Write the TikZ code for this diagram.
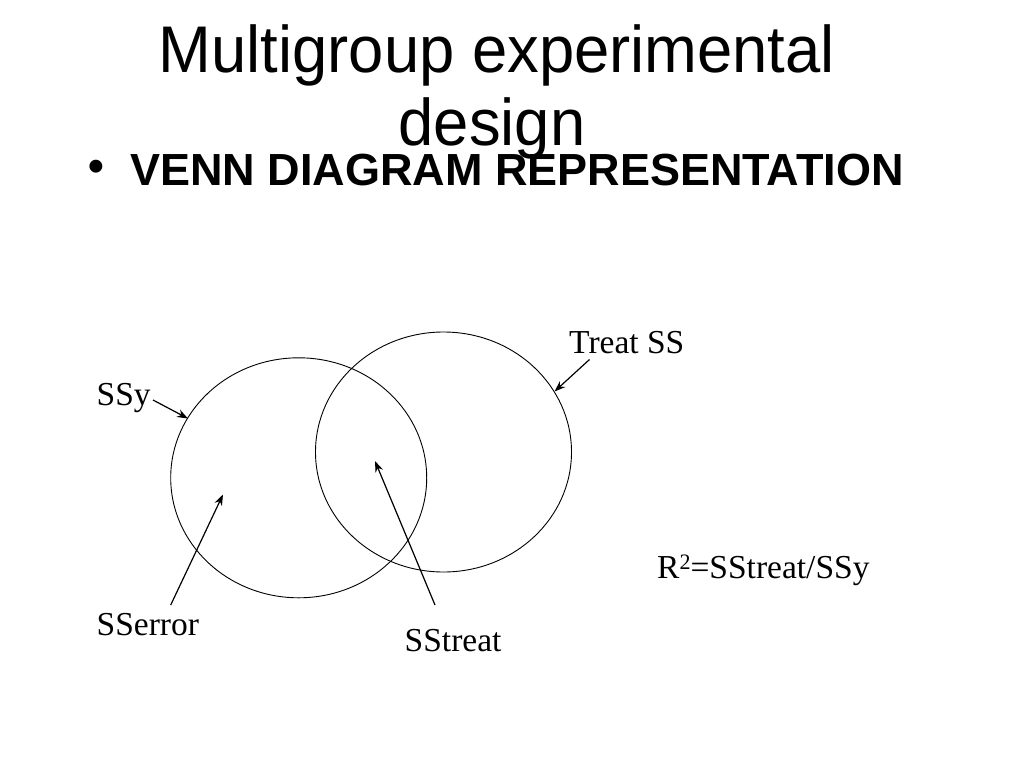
\documentclass[tikz,border=0pt]{standalone}
\usepackage{fontspec}
\setmainfont{Liberation Serif}
\newfontfamily\arialfont{Liberation Sans}
\usetikzlibrary{arrows.meta,shapes.geometric}
\begin{document}
\begin{tikzpicture}[x=1pt,y=-1pt,
  titletext/.style={inner sep=0pt,anchor=base,xscale=0.96,font=\arialfont\fontsize{66}{76}\selectfont},
  bullettext/.style={inner sep=0pt,font=\arialfont\bfseries\fontsize{45}{54}\selectfont},
  label/.style={inner sep=0pt,anchor=base west,font=\fontsize{33.5}{40}\selectfont},
  venn/.style={draw=black,line width=0.9pt},
  pointer/.style={draw=black,line width=1.2pt,-{Stealth[length=11pt,width=8pt]}}]
\useasboundingbox[fill=white] (0,0) rectangle (1024,768);
% title
\node[titletext] (title1) at (497,72.3) {Multigroup experimental};
\node[titletext] (title2) at (492,145.7) {design};
% bullet
\node[bullettext,anchor=center] (dot) at (96.5,171) {•};
\node[bullettext,anchor=base west] (head) at (130,185) {VENN DIAGRAM REPRESENTATION};
% circles
\node[venn,ellipse,minimum width=256pt,minimum height=240pt,inner sep=0pt] (setY) at (298.7,477.8) {};
\node[venn,ellipse,minimum width=256pt,minimum height=240pt,inner sep=0pt] (setT) at (443.5,452) {};
% labels
\node[label] (ssy) at (96.5,405.5) {SSy};
\node[label] (treatss) at (569,353.5) {Treat SS};
\node[label] (sserror) at (96.5,635) {SSerror};
\node[label] (sstreat) at (404.5,651.7) {SStreat};
\node[label] (rsq) at (657,578.3) {R\raisebox{8.5pt}{\fontsize{22}{22}\selectfont 2}=SStreat/SSy};
% arrow ends
\coordinate (ssyS) at (153,400);
\coordinate (ssyE) at (188,418.5);
\coordinate (trS) at (589.5,359.5);
\coordinate (trE) at (554.5,391.5);
\coordinate (errS) at (170.7,605);
\coordinate (errE) at (223,494.5);
\coordinate (stS) at (435,605);
\coordinate (stE) at (375,461);
\draw[pointer] (ssyS) -- (ssyE);
\draw[pointer] (trS) -- (trE);
\draw[pointer] (errS) -- (errE);
\draw[pointer] (stS) -- (stE);
\end{tikzpicture}
\end{document}
